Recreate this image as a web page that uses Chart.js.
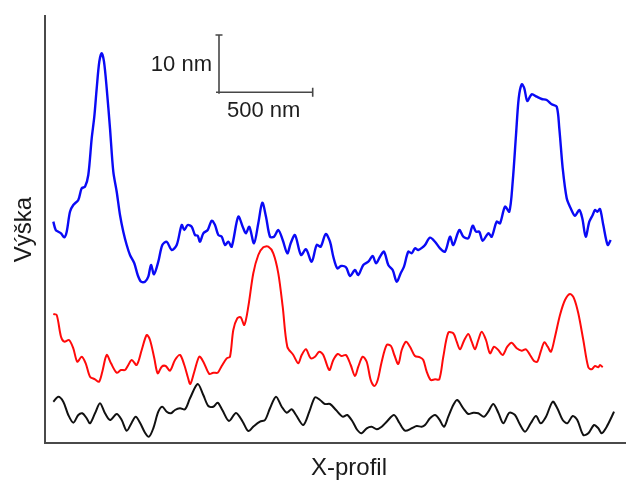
<!DOCTYPE html>
<html><head><meta charset="utf-8">
<script src="https://cdn.jsdelivr.net/npm/chart.js@4/dist/chart.umd.min.js"></script>
<style>html,body{margin:0;padding:0;background:#fff}#wrap{width:626px;height:482px;position:relative}</style>
</head><body><div id="wrap"><canvas id="c" width="626" height="482"></canvas></div>
<script>
// Profile position / height, arbitrary units
const blueX=[8.3,10.7,13.3,16,19.3,21.7,25,28.3,33.3,36.7,40,43.3,46.7,49.3,51.7,54.3,56.7,59,61.7,65,68.3,71.7,75,78.3,81.7,85,89.3,92.7,96,100,103.3,106,109,113.3,117.3,121.7,126.7,131.7,136.7,139.3,142.7,146.7,150,152.7,155,158.3,162.7,166.7,170,173.3,176.7,180,183.3,186.7,193.3,198.3,201,204.3,209,213.3,217.3,221,225,229,233.3,237.7,242.3,245.7,250,256,261,266.7,271.7,275.7,280.7,285,288.3,292.3,296,301,305,310,313.3,318.3,323.3,327.7,331,335,339,343.3,347.7,351.7,355.7,359,363.3,366.7,370,373.3,378.3,380,385,390,395,400,405,408.3,414.3,418.3,423.3,427.7,431,434.3,437.7,443.3,446.7,451.7,455,460,464.3,467.7,471,473.7,476.7,479.3,482.3,486.7,491.7,496.7,501.7,506.7,511.7,514.3,517.7,521.7,525.7,530,534.3,537.3,540.7,544.3,547.7,550,552.3,555,558.3,562.7,565.7];
const blueY=[221.3,213,211.3,209.7,205.7,211.3,231.3,238,243,254.7,256.3,268,304.7,326.3,354.7,381.3,389.7,381.3,354.7,314.7,271.3,251.3,228,211.3,198,188,179.7,168,161.3,161.3,166.3,178,168.7,181.3,198,201.3,193,198,218,213,218,216.3,208,207.3,201.3,209.7,213,222.3,218,208,206.3,198,201.3,196.3,226.3,214.7,209.7,216.3,199.7,219.7,240.3,226.3,206.3,206.3,213,203,189.7,199.7,208,188,193.7,181.3,198,196.3,209,201.3,186.3,174.7,177,175.7,167,173,168,178,181.3,187,179.7,186.3,191.3,178,173,161.3,169.7,176.3,191.3,189.7,194.7,193,196.3,198,205.3,201.3,194.7,191.3,206.3,198,213,206.3,204.7,217.3,211.3,211.3,202.3,209.7,206.3,221.3,219.7,236.3,231.3,261.3,308,344.7,358.7,354.7,342,348.7,346.3,344,343,338.7,336.3,314.7,274.7,244.7,234.7,227.3,233,224.7,206.3,221.3,228,233,231.3,234,218,198,203];
const redX=[8.3,11.7,16,19.3,24,28.3,32.3,36.7,40.7,45,50,54,57.3,61.7,66,71.7,76,80,83.3,86.7,91.7,96.7,101.7,105,109.3,112.7,116.7,120.7,125,130,135,139.3,142.7,145.3,149.3,154.3,158.3,164.3,168.3,172.7,176.7,181.7,185,188.3,192.3,195.7,199.3,203.3,208.3,213.3,218.3,223.3,228.3,233.3,237.7,242.3,248.3,253.3,256.7,261,265.7,270,274.3,278.3,284.3,288.3,292.7,296.7,301,305.7,310,313.3,317.7,321.7,325.7,329.3,332.7,336.7,341.7,346,349.3,353.3,356.7,361,365,370,375,378.3,381.7,385.7,390,394.3,398.3,403.3,408.3,411.7,415,419,423.3,426.7,430,433.3,436.7,441,445,449,453.3,457.7,462.3,466.7,471.7,476.7,481,485,489,492.3,495.7,499.3,502.7,506,510,515,520,525,529,533.3,538.3,543.3,546.7,550,553.3,555,557.7];
const redY=[129,128,106.3,101.3,103,94.7,81.3,86.3,79.7,66.3,63.7,61.3,71.3,88,79.7,70.3,73,73,78,83,78,93,108,103,84.7,69.7,76.3,77,72.3,83,88,78,66.3,59,71.3,86.3,81.3,69,70.3,70.3,77,84.7,86.3,113,124.7,125.7,118,136.3,169.7,188,195.7,196.3,189.7,169.7,136.3,96.3,88,79.7,88,93.7,84.7,86.3,91.3,88,73,83,89,87,88,78,67,76.3,86.3,81.3,63,57,63,81.3,98,97,88,79,93,101.3,96.3,87,85.7,83,71.3,63,63.7,63.7,86.3,110.3,109.7,101.3,93.7,102.3,109,101.3,93.7,103,111.3,103,89.7,96.3,93,88,96.3,100.3,94.7,92.3,93.7,88,82,81.3,91.3,100.7,96.3,91.3,106.3,128,143,149,144.7,129.7,103,75.7,73.7,77,75.7,78,75.7];
const blackX=[8.3,13.3,18.3,23.3,28.3,33.3,37.3,41.7,45,50,55,60,65,71.7,76.7,81.7,86.7,90.7,95,100,104,108.3,113.3,117.3,121.7,126,130,135,140,145,152.7,158.3,163.3,168.3,172.7,177.3,184,191,197.7,203.3,209,215,220,225,231,236.7,241.7,246.7,251,258.3,264.3,270,275,280,285,291,297.7,302.3,307.7,312.3,316.7,321.7,326.7,331.7,336.7,341.7,349,354.3,360,366.7,371.7,376.7,380,385,390,394.3,399,403.3,408.3,412.3,418.3,423.3,428.3,433.3,439,443.3,448.3,453.3,458.3,464.3,470,474.3,480,485.7,491,495.7,501,507.7,512.3,517.7,522.3,527.7,532.3,538.3,543.3,549,553.3,556.7,561.7,566.7,569];
const blackY=[41.3,46.3,41.3,28,20.3,28,29.7,24.7,19.7,29.7,39.7,29.7,23,29,23,12.3,20.3,26.3,20.3,10.3,6.3,14.7,31.3,36.3,31.3,29.7,33,34.7,33.7,44.7,59,48,37,36.3,40.3,33,22,30,21.3,12,17,21.3,23,34.7,46.3,36.3,30.3,33.7,28,18,31.3,45.7,43,39,39,33,26.3,28,21.3,13,9.7,14.7,16.3,13.7,16.3,21.3,28,20.3,12.3,14.7,17,16.3,18,24.7,28,23.7,16.3,26.3,38,43,34.7,29,30.3,29.7,26.3,31.3,39,30.3,19.7,30.3,28,19.7,11.3,19.7,27,19.7,26.3,41.3,34.7,23,19.7,27,23,8,9.7,18,14.7,9.7,16.3,26.3,31.3];

// Scale bar (same units as the data) and texts
const scaleBarOrigin=[174,350.7];
const scaleBarWidth=93.7;   // = 500 nm
const scaleBarHeight=57.3;  // = 10 nm
const scaleBarLabels=['10 nm','500 nm'];
const xTitle='X-profil';
const yTitle='Výška';

const FONT='"Liberation Sans", Arial, sans-serif';
Chart.defaults.font.family=FONT;

const toPts=(xs,ys)=>xs.map((v,i)=>({x:v,y:ys[i]}));

const overlayPlugin={
  id:'overlay',
  afterDatasetsDraw(chart){
    const {ctx,scales:{x,y},chartArea}=chart;
    const x0=x.getPixelForValue(scaleBarOrigin[0]);
    const y0=y.getPixelForValue(scaleBarOrigin[1]);
    const x1=x.getPixelForValue(scaleBarOrigin[0]+scaleBarWidth);
    const y1=y.getPixelForValue(scaleBarOrigin[1]+scaleBarHeight);
    ctx.save();
    ctx.strokeStyle='#474747';
    ctx.lineWidth=1.6;
    ctx.beginPath();
    ctx.moveTo(x0,y1); ctx.lineTo(x0,y0+1.5);
    ctx.moveTo(x0-3,y0); ctx.lineTo(x1,y0);
    ctx.moveTo(x0-3.5,y1); ctx.lineTo(x0+3.5,y1);
    ctx.moveTo(x1,y0-4.5); ctx.lineTo(x1,y0+4.5);
    ctx.stroke();
    ctx.fillStyle='#1e1e1e';
    ctx.font='22px '+FONT;
    ctx.textBaseline='middle';
    ctx.textAlign='right';
    ctx.fillText(scaleBarLabels[0],x0-7,(y0+y1)/2+1.5);
    ctx.textAlign='left';
    ctx.fillText(scaleBarLabels[1],x0+8,y0+19);
    // x axis title (sits right of the axis centre in the original)
    ctx.fillStyle='#1a1a1a';
    ctx.font='24px '+FONT;
    ctx.textAlign='center';
    ctx.fillText(xTitle,x.getPixelForValue(304),chartArea.bottom+25);
    ctx.restore();
  }
};

const lineDs=(label,pts,color,w)=>({label,data:pts,borderColor:color,borderWidth:w,pointRadius:0,tension:0.3,fill:false});

new Chart(document.getElementById('c'),{
  type:'line',
  data:{datasets:[
    lineDs('blue',toPts(blueX,blueY),'#0a0af5',2.4),
    lineDs('red',toPts(redX,redY),'#ff0a0a',2),
    lineDs('black',toPts(blackX,blackY),'#111111',2)
  ]},
  options:{
    responsive:false,animation:false,devicePixelRatio:1,
    layout:{padding:{top:16,right:0,bottom:39,left:0}},
    plugins:{legend:{display:false},tooltip:{enabled:false}},
    scales:{
      x:{type:'linear',min:0,max:581,
        ticks:{display:false},grid:{display:false,drawTicks:false},
        border:{display:true,color:'#4a4a4a',width:2},
        title:{display:false}},
      y:{type:'linear',min:0,max:427,
        ticks:{display:false},grid:{display:false,drawTicks:false},
        border:{display:true,color:'#4a4a4a',width:2},
        title:{display:true,text:yTitle,color:'#1a1a1a',font:{size:24,lineHeight:1.2},padding:{top:9.5,bottom:6.7}}}
    }
  },
  plugins:[overlayPlugin]
});
</script></body></html>
